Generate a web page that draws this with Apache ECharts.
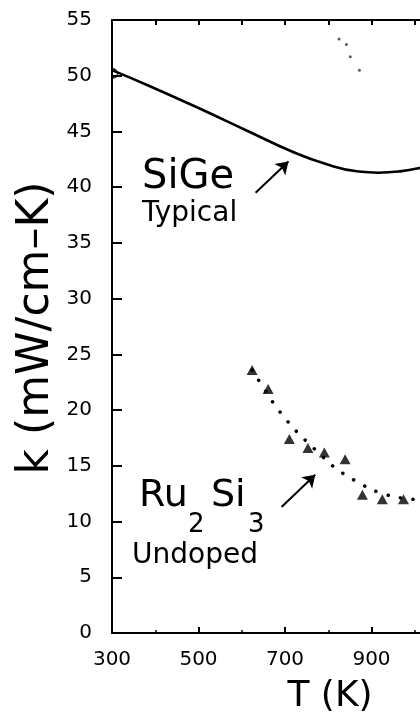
<!DOCTYPE html>
<html>
<head>
<meta charset="utf-8">
<script src="https://cdn.jsdelivr.net/npm/echarts@6/dist/echarts.min.js"></script>
<style>
html,body{margin:0;padding:0;background:#fff;}
#chart{width:420px;height:719px;}
</style>
</head>
<body>
<div id="chart"></div>
<script>
// ---- Data ----
// SiGe typical thermal conductivity curve: [T (K), k (mW/cm-K)]
const sigeT = [300, 385, 500, 616, 716, 793, 870, 916, 962, 1008, 1050];
const sigeK = [50.5, 49.1, 47.1, 45.0, 43.2, 42.1, 41.4, 41.3, 41.4, 41.7, 42.2];
// SiGe start marker
const sigeStart = [[300, 50.2]];
// Ru2Si3 undoped measured points (triangles)
const ruT = [624, 661, 710, 753, 791, 839, 879, 925, 974];
const ruK = [23.6, 21.9, 17.4, 16.6, 16.2, 15.6, 12.4, 12.0, 12.0];
// Ru2Si3 dotted trend line
const ruFitT = [624, 637, 671, 689, 710, 731, 807, 831, 856, 879, 904, 954, 1008, 1050];
const ruFitK = [23.6, 22.8, 20.75, 19.8, 18.8, 17.9, 15.1, 14.4, 13.8, 13.3, 12.8, 12.2, 11.95, 11.8];
// faint dotted trace near the top
const traceT = [825, 842, 851, 872];
const traceK = [53.3, 52.8, 51.7, 50.5];
// axis settings
const xTickLabels = [300, 500, 700, 900];
const yMin = 0, yMax = 55, yStep = 5;

const zip = (a, b) => a.map((v, i) => [v, b[i]]);
const FONT = 'DejaVu Sans';

const chart = echarts.init(document.getElementById('chart'), null, {renderer: 'canvas'});

function txt(text, x, y, size, extra) {
  return {
    type: 'text', x: x, y: y, silent: true,
    style: Object.assign({text: text, fontSize: size, fontFamily: FONT, fill: '#000', verticalAlign: 'middle'}, extra || {})
  };
}

const option = {
  backgroundColor: '#ffffff',
  animation: false,
  grid: {left: 112, top: 20, height: 613, width: 346, containLabel: false, outerBoundsMode: 'none'},
  xAxis: [
    {
      type: 'value', position: 'bottom', min: 300, max: 1100, interval: 200,
      axisLine: {show: true, lineStyle: {color: '#000', width: 2}},
      axisTick: {show: true, inside: true, length: 6, lineStyle: {color: '#000', width: 2}},
      minorTick: {show: true, splitNumber: 2, length: 3, lineStyle: {color: '#000', width: 1.5}},
      splitLine: {show: false},
      axisLabel: {
        color: '#000', fontSize: 20, fontFamily: FONT, margin: 17,
        formatter: v => (xTickLabels.indexOf(v) >= 0 ? String(v) : '')
      }
    },
    {
      type: 'value', position: 'top', min: 300, max: 1100, interval: 100,
      axisLine: {show: true, onZero: false, lineStyle: {color: '#000', width: 2}},
      axisTick: {show: true, inside: true, length: 5, lineStyle: {color: '#000', width: 2}},
      splitLine: {show: false},
      axisLabel: {show: false}
    }
  ],
  yAxis: {
    type: 'value', min: yMin, max: yMax, interval: yStep,
    axisLine: {show: true, lineStyle: {color: '#000', width: 2}},
    axisTick: {show: true, inside: true, length: 10, lineStyle: {color: '#000', width: 2}},
    splitLine: {show: false},
    axisLabel: {color: '#000', fontSize: 20, fontFamily: FONT, margin: 20}
  },
  series: [
    {
      name: 'SiGe', type: 'line', smooth: 0.5, showSymbol: false,
      data: zip(sigeT, sigeK),
      lineStyle: {color: '#000', width: 2.6},
      markLine: {
        silent: true, symbol: ['none', 'arrow'], symbolSize: 12,
        label: {show: false},
        lineStyle: {color: '#000', width: 2, type: 'solid'},
        data: [
          [{coord: [632, 39.5]}, {coord: [708, 42.3]}],
          [{coord: [692, 11.3]}, {coord: [770, 14.2]}]
        ]
      }
    },
    {
      name: 'SiGe start', type: 'scatter', data: sigeStart,
      symbol: 'path://M0,0 A10,10 0 0,1 0,20', symbolSize: [5, 9], symbolOffset: [3, 0],
      itemStyle: {color: 'transparent', borderColor: '#000', borderWidth: 1.5}
    },
    {
      name: 'Ru2Si3 trend', type: 'line', showSymbol: false, smooth: 0.2,
      data: zip(ruFitT, ruFitK),
      lineStyle: {color: '#000', width: 3.5, type: [0.1, 12.5], cap: 'round'}
    },
    {
      name: 'Ru2Si3', type: 'scatter', data: zip(ruT, ruK),
      symbol: 'triangle', symbolSize: [11, 10],
      itemStyle: {color: '#000'}
    },
    {
      name: 'trace', type: 'scatter', data: zip(traceT, traceK),
      symbol: 'circle', symbolSize: 3,
      itemStyle: {color: '#333'}
    }
  ],
  graphic: [
    txt('SiGe', 142, 178, 40),
    txt('Typical', 142, 214, 28),
    txt('Ru', 139, 496, 38),
    txt('2', 188, 525, 26),
    txt('Si', 211, 496, 38),
    txt('3', 248, 525, 26),
    txt('Undoped', 132, 556, 28),
    txt('T (K)', 330, 697, 36, {align: 'center'}),
    {
      type: 'text', x: 37, y: 328, rotation: Math.PI / 2, silent: true,
      style: {text: 'k (mW/cm\u2013K)', fontSize: 44, fontFamily: FONT, fill: '#000', align: 'center', verticalAlign: 'middle'}
    }
  ]
};
chart.setOption(option);
</script>
</body>
</html>
